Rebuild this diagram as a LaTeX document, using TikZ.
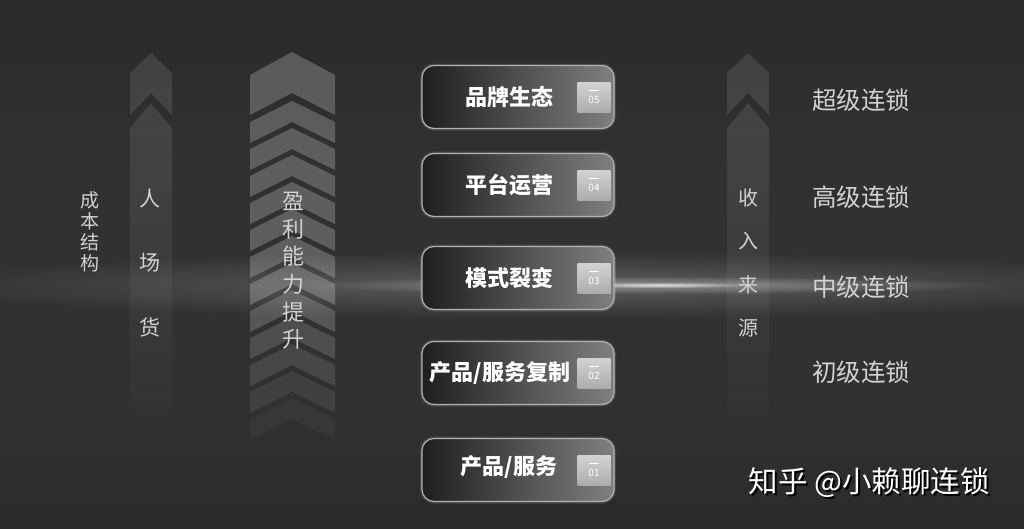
\documentclass[tikz,border=0pt]{standalone}
\usepackage{fontspec}
\newfontfamily\cjk{Noto Sans CJK SC}
\usetikzlibrary{fadings}
\tikzfading[name=fadedown, top color=transparent!0, bottom color=transparent!100]
\tikzfading[name=radfade, inner color=transparent!0, outer color=transparent!100]
\definecolor{bg}{HTML}{313131}
\definecolor{lbl}{HTML}{D2D2D2}
\tikzset{
  pbox/.style={draw=gray!60, line width=1.2pt, rounded corners=12pt,
    left color=black!88, right color=black!50, minimum width=192pt, minimum height=63pt,
    preaction={draw=white, draw opacity=.12, line width=4pt}},
  numsq/.style={top color=gray!35, bottom color=gray!65, draw=none, minimum width=33pt,
    minimum height=30pt, inner sep=0pt},
  numtxt/.style={text=white!85, font={\cjk\fontsize{10}{10}\selectfont}, inner sep=0pt},
  boxtxt/.style={text=white, font={\cjk\bfseries\fontsize{22}{24}\selectfont}, inner sep=0pt},
  vtxt/.style={text=lbl, align=center, inner sep=0pt},
  rtxt/.style={text=lbl, font={\cjk\fontsize{24.5}{26}\selectfont}, inner sep=0pt},
  faint/.style={fill=white, fill opacity=0.10},
  wmtxt/.style={font={\cjk\fontsize{29.5}{31}\selectfont}, inner sep=0pt},
}
\begin{document}
\begin{tikzpicture}[x=1pt,y=-1pt]
\useasboundingbox (0,0) rectangle (1024,528);
\fill[bg] (0,0) rectangle (1024,528);
\shade[top color=bg!85!black, bottom color=bg] (0,0) rectangle (1024,160);
\shade[top color=bg, bottom color=bg!88!black] (0,400) rectangle (1024,528);
% horizontal light streak
\fill[white, fill opacity=0.22, path fading=radfade] (560,285) ellipse (660 and 34);
\fill[white, fill opacity=0.35, path fading=radfade] (650,285) ellipse (360 and 9);
\fill[white, fill opacity=0.7, path fading=radfade] (660,285) ellipse (90 and 3);

% left small arrow
\fill[faint] (130,73)--(151,53)--(172,73)--(172,115)--(151,93)--(130,115)--cycle;
\fill[faint, path fading=fadedown] (130,128)--(151,103)--(172,128)--(172,445)--(130,445)--cycle;
% right small arrow
\fill[faint] (727,73)--(748,53)--(769,73)--(769,115)--(748,93)--(727,115)--cycle;
\fill[faint, path fading=fadedown] (727,128)--(748,103)--(769,128)--(769,445)--(727,445)--cycle;

% big chevron column
\fill[white, fill opacity=0.22] (250,75)--(292,52)--(335,75)--(335,115)--(292,93)--(250,115)--cycle;
\foreach \k in {1,...,12}{
  \pgfmathsetmacro\tc{101+(\k-1)*27}
  \pgfmathsetmacro\op{min(0.22,0.22*(13-\k)/6)}
  \fill[white, fill opacity=\op] (250,\tc+21)--(292,\tc)--(335,\tc+21)--(335,\tc+42)--(292,\tc+21)--(250,\tc+42)--cycle;
}

% vertical texts
\node[vtxt, font={\cjk\fontsize{19}{21}\selectfont}] (cbjg) at (90,232) {成\\本\\结\\构};
\node[vtxt, font={\cjk\fontsize{21}{64.5}\selectfont}] (rch) at (150,263) {人\\场\\货};
\node[vtxt, font={\cjk\fontsize{22}{27.6}\selectfont}] (ylnl) at (293,271) {盈\\利\\能\\力\\提\\升};
\node[vtxt, font={\cjk\fontsize{20}{43.5}\selectfont}] (srly) at (748,263) {收\\入\\来\\源};

% boxes
\foreach \i/\y/\n in {5/97/05,4/185/04,3/278/03,2/373/02,1/470/01}{
  \node[pbox] (b\i) at (518,\y) {};
  \node[numsq] (n\i) at (594,\y) {};
  \draw[white!80, line width=0.5pt] ([xshift=-5pt,yshift=7pt]n\i.center) -- ([xshift=5pt,yshift=7pt]n\i.center);
  \node[numtxt] (nt\i) at ([yshift=-3pt]n\i.center) {\n};
}
\node[boxtxt] (t5) at (509,97) {品牌生态};
\node[boxtxt] (t4) at (509,185) {平台运营};
\node[boxtxt] (t3) at (509,278) {模式裂变};
\node[boxtxt] (t2) at (500,373) {产品/服务复制};
\node[boxtxt] (t1) at (509,467) {产品/服务};

% right labels
\node[rtxt] (l4) at (861,100) {超级连锁};
\node[rtxt] (l3) at (861,197) {高级连锁};
\node[rtxt] (l2) at (861,287) {中级连锁};
\node[rtxt] (l1) at (861,372) {初级连锁};

% watermark
\node[wmtxt, text=black] (wms) at (871,485) {知乎 @小赖聊连锁};
\node[wmtxt, text=white] (wm) at (869,483) {知乎 @小赖聊连锁};
\end{tikzpicture}
\end{document}
